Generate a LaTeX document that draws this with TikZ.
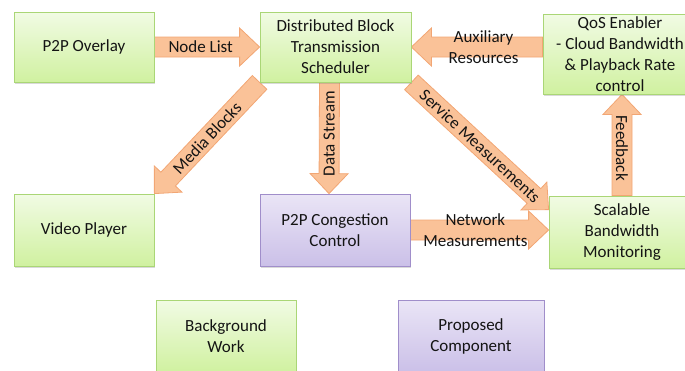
\documentclass[tikz,border=0pt]{standalone}
\usepackage{fontspec}
\setmainfont{Carlito}
\usetikzlibrary{calc}
\usetikzlibrary{shadows}
\usetikzlibrary{backgrounds}

\definecolor{grntop}{RGB}{241,251,228}
\definecolor{grnbot}{RGB}{208,241,160}
\definecolor{grnline}{RGB}{170,214,118}
\definecolor{purtop}{RGB}{234,229,246}
\definecolor{purbot}{RGB}{203,192,232}
\definecolor{purline}{RGB}{160,142,202}
\definecolor{arrfill}{RGB}{250,194,152}
\definecolor{arrline}{RGB}{242,166,116}
\definecolor{txt}{RGB}{20,20,20}

\tikzset{
  box/.style={rectangle, line width=0.8pt, align=center, inner sep=1pt,
    text=txt, font=\fontsize{17}{21}\selectfont,
    drop shadow={shadow xshift=1pt, shadow yshift=-1.5pt, opacity=0.3}},
  bgbox/.style={box, draw=grnline, top color=grntop, bottom color=grnbot},
  propbox/.style={box, draw=purline, top color=purtop, bottom color=purbot},
  lbl/.style={align=center, inner sep=0pt, text=txt, font=\fontsize{17}{21}\selectfont},
  % block arrow: shaft 20pt, head 38pt wide and 20pt long
  fat/.style={fill=arrfill, draw=arrline, line width=0.8pt, line join=miter,
    to path={($(\tikztostart)!10pt!90:(\tikztotarget)$)
      -- ($(\tikztotarget)!20pt!(\tikztostart)!10pt!90:(\tikztotarget)$)
      -- ($(\tikztotarget)!20pt!(\tikztostart)!19pt!90:(\tikztotarget)$)
      -- (\tikztotarget)
      -- ($(\tikztotarget)!20pt!(\tikztostart)!19pt!-90:(\tikztotarget)$)
      -- ($(\tikztotarget)!20pt!(\tikztostart)!10pt!-90:(\tikztotarget)$)
      -- ($(\tikztostart)!10pt!-90:(\tikztotarget)$) -- cycle}}
}

\begin{document}
\begin{tikzpicture}[x=1pt, y=-1pt]
        \useasboundingbox (0,0) rectangle (685,370);

        % Boxes
        \node[bgbox, minimum width=140pt, minimum height=70pt] (ovl) at (84,47) {P2P Overlay};
        \node[bgbox, minimum width=151pt, minimum height=70pt] (dbts) at (335.5,47) {Distributed Block\\Transmission\\Scheduler};
        \node[bgbox, minimum width=154pt, minimum height=80pt] (qos) at (620,54) {QoS Enabler\\- Cloud Bandwidth\\\& Playback Rate\\control};
        \node[bgbox, minimum width=140pt, minimum height=72pt] (vp) at (84,230) {Video Player};
        \node[propbox, minimum width=150pt, minimum height=72pt] (cc) at (335,230) {P2P Congestion\\Control};
        \node[bgbox, minimum width=146pt, minimum height=72pt] (sbm) at (622,232) {Scalable\\Bandwidth\\Monitoring};

        % Legend
        \node[bgbox, minimum width=140pt, minimum height=72pt] (bw) at (226,336) {Background\\Work};
        \node[propbox, minimum width=146pt, minimum height=72pt] (pc) at (471,336) {Proposed\\Component};

        % Arrow ends that are not node anchors
        \coordinate (auxa) at (qos.west |- dbts.east);
        \coordinate (dsa) at ([xshift=-6pt]dbts.south);
        \coordinate (dsb) at ([xshift=-6pt]cc.north);
        \coordinate (fbb) at (sbm.north |- qos.south);
        \coordinate (smb) at ([yshift=-14pt]sbm.north west);
        \coordinate (nmb) at (cc.east -| sbm.west);

        % Block arrows, behind the boxes
        \begin{scope}[on background layer]
        \draw[fat] (ovl.east) to (dbts.west);
        \draw[fat] (auxa) to (dbts.east);
        \draw[fat] (dsa) to (dsb);
        \draw[fat] (dbts.south west) to (vp.north east);
        \draw[fat] (dbts.south east) to (smb);
        \draw[fat] (cc.east) to (nmb);
        \draw[fat] (sbm.north) to (fbb);
        \end{scope}

        % Arrow labels
        \path (ovl.east) -- node[lbl, pos=0.44] {Node List} (dbts.west);
        \path (auxa) -- node[lbl, pos=0.45] {Auxiliary\\Resources} (dbts.east);
        \path (dsa) -- node[lbl, pos=0.46, rotate=90] {Data Stream} (dsb);
        \path (dbts.south west) -- node[lbl, pos=0.5, sloped] {Media Blocks} (vp.north east);
        \path (dbts.south east) -- node[lbl, pos=0.5, sloped] {Service Measurements} (smb);
        \path (cc.east) -- node[lbl, pos=0.47] {Network\\Measurements} (nmb);
        \path (sbm.north) -- node[lbl, pos=0.47, rotate=-90] {Feedback} (fbb);
\end{tikzpicture}
\end{document}
